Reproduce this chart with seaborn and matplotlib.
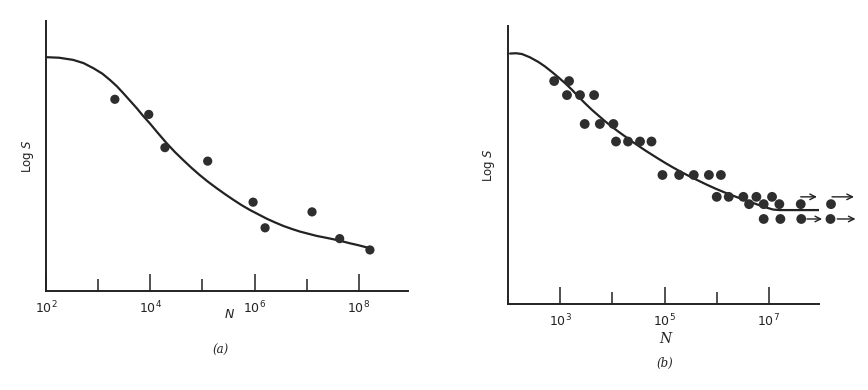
import matplotlib
matplotlib.use('Agg')
import matplotlib.pyplot as plt
from matplotlib.ticker import NullFormatter
import numpy as np
import pandas as pd
import seaborn as sns

# panel (a): log10 N of points and Log S (arbitrary units)
a_pts_logn = [3.32, 3.97, 4.28, 5.10, 5.97, 6.20, 7.10, 7.63, 8.21]
a_pts_logs = [7.10, 6.54, 5.31, 4.81, 3.29, 2.34, 2.93, 1.94, 1.52]
a_curve_logn = [2.00, 2.25, 2.52, 2.72, 2.91, 3.08, 3.23, 3.36, 3.48, 3.61, 3.74,
                3.86, 3.99, 4.15, 4.31, 4.47, 4.63, 4.79, 4.95, 5.11, 5.27,
                5.43, 5.59, 5.75, 5.91, 6.07, 6.23, 6.39, 6.55, 6.71, 6.87,
                7.03, 7.19, 7.35, 7.50, 7.66, 7.82, 7.98, 8.14, 8.21]
a_curve_logs = [8.66, 8.64, 8.56, 8.44, 8.25, 8.05, 7.81, 7.58, 7.33, 7.05, 6.77,
                6.49, 6.21, 5.84, 5.48, 5.15, 4.85, 4.56, 4.29, 4.04, 3.81,
                3.59, 3.38, 3.18, 3.00, 2.84, 2.68, 2.54, 2.41, 2.30, 2.20,
                2.12, 2.04, 1.98, 1.92, 1.85, 1.77, 1.70, 1.62, 1.60]
a_ticks_major = [4, 6, 8]
a_ticks_minor = [3, 5, 7]
a_labels = [2, 4, 6, 8]

# panel (b)
b_pts_logn = [2.885, 3.17,
              3.13, 3.38, 3.65,
              3.47, 3.76, 4.02,
              4.07, 4.30, 4.53, 4.75,
              4.96, 5.28, 5.56, 5.85, 6.08,
              6.00, 6.23, 6.51, 6.76, 7.06,
              6.62, 6.90, 7.20, 7.61, 8.19,
              6.90, 7.22, 7.62, 8.18]
b_pts_logs = [8.26, 8.26,
              7.74, 7.74, 7.74,
              6.67, 6.67, 6.67,
              6.02, 6.02, 6.02, 6.02,
              4.78, 4.78, 4.78, 4.78, 4.78,
              3.97, 3.97, 3.97, 3.97, 3.97,
              3.70, 3.70, 3.70, 3.70, 3.70,
              3.15, 3.15, 3.15, 3.15]
b_curve_logn = [2.04, 2.16, 2.27, 2.42, 2.58, 2.71, 2.84, 2.97, 3.10, 3.23, 3.35,
                3.48, 3.61, 3.74, 3.86, 3.99, 4.12, 4.25, 4.37, 4.50, 4.63,
                4.85, 5.01, 5.17, 5.33, 5.49, 5.65, 5.81, 5.97, 6.13, 6.29,
                6.44, 6.60, 6.76, 6.92, 7.08, 7.20, 7.98]
b_curve_logs = [9.28, 9.29, 9.26, 9.14, 8.97, 8.80, 8.60, 8.39, 8.17, 7.93, 7.68,
                7.43, 7.19, 6.97, 6.77, 6.57, 6.38, 6.20, 6.03, 5.86, 5.69,
                5.42, 5.23, 5.05, 4.88, 4.72, 4.57, 4.42, 4.28, 4.15, 4.03,
                3.92, 3.81, 3.70, 3.59, 3.50, 3.48, 3.48]
b_arrows = [(7.61, 7.92, 3.97), (8.21, 8.63, 3.97), (7.73, 8.02, 3.15), (8.31, 8.66, 3.15)]
b_ticks_major = [3, 5, 7]
b_ticks_minor = [4, 6]

sns.set_style('white')
plt.rcParams['font.family'] = ['DejaVu Sans']
plt.rcParams['mathtext.default'] = 'regular'

W, H = 868, 390
fig = plt.figure(figsize=(W / 100, H / 100), dpi=100)
ax_a = fig.add_axes([46 / W, (H - 291) / H, (408 - 46) / W, (291 - 21) / H])
ax_b = fig.add_axes([508 / W, (H - 304) / H, (819 - 508) / W, (304 - 26) / H])

ink = '#222222'
dot = '#2e2e2e'


def draw(ax, curve_logn, curve_logs, pts_logn, pts_logs, xmax, ymax, major, minor, size):
    curve = pd.DataFrame({'N': np.power(10.0, curve_logn), 'S': curve_logs})
    pts = pd.DataFrame({'N': np.power(10.0, pts_logn), 'S': pts_logs})
    sns.lineplot(data=curve, x='N', y='S', ax=ax, color=ink, lw=1.6, sort=False)
    sns.scatterplot(data=pts, x='N', y='S', ax=ax, color=dot, s=size,
                    edgecolor='none', clip_on=False, zorder=3)
    ax.set_xscale('log')
    ax.set_xlim(1e2, 10 ** xmax)
    ax.set_ylim(0, ymax)
    ax.set_yticks([])
    ax.set_xticks([10.0 ** k for k in major])
    ax.set_xticks([10.0 ** k for k in minor], minor=True)
    ax.xaxis.set_minor_formatter(NullFormatter())
    ax.set_xticklabels([f'$10^{{{k}}}$' for k in major], fontsize=9)
    ax.tick_params(axis='x', which='major', direction='in', length=12, width=1.1,
                   color=ink, pad=6, labelcolor=ink, bottom=True)
    ax.tick_params(axis='x', which='minor', direction='in', length=8.5, width=1.1,
                   color=ink, bottom=True)
    for side in ('top', 'right'):
        ax.spines[side].set_visible(False)
    for side in ('left', 'bottom'):
        ax.spines[side].set_color(ink)
        ax.spines[side].set_linewidth(1.4)
    ax.set_ylabel(r'Log $\mathit{S}$', fontsize=8.5, color=ink)
    ax.set_xlabel('')


draw(ax_a, a_curve_logn, a_curve_logs, a_pts_logn, a_pts_logs, 8.94, 10.0,
     a_ticks_major, a_ticks_minor, 44)
# 10^2 label sits at the axis origin
ax_a.set_xticks([1e2] + [10.0 ** k for k in a_ticks_major])
ax_a.set_xticklabels([f'$10^{{{k}}}$' for k in a_labels], fontsize=9)
ax_a.yaxis.set_label_coords(-0.028, 0.5)

draw(ax_b, b_curve_logn, b_curve_logs, b_pts_logn, b_pts_logs, 7.96, 10.3,
     b_ticks_major, b_ticks_minor, 50)
ax_b.yaxis.set_label_coords(-0.035, 0.5)

for x0, x1, y in b_arrows:
    ax_b.annotate('', xy=(10 ** x1, y), xytext=(10 ** x0, y), annotation_clip=False,
                  arrowprops=dict(arrowstyle='->', color=ink, lw=1.0,
                                  shrinkA=0, shrinkB=0))

fig.text(229 / W, 1 - 314 / H, 'N', style='italic', fontsize=9, ha='center', va='center', color=ink)
fig.text(665 / W, 1 - 339 / H, 'N', style='italic', family='serif', fontsize=10,
         ha='center', va='center', color=ink)
fig.text(221 / W, 1 - 350 / H, '(a)', style='italic', family='serif', fontsize=8.5,
         ha='center', va='center', color=ink)
fig.text(665 / W, 1 - 363 / H, '(b)', style='italic', family='serif', fontsize=8.5,
         ha='center', va='center', color=ink)

fig.savefig('out.png', dpi=100, facecolor='white')
